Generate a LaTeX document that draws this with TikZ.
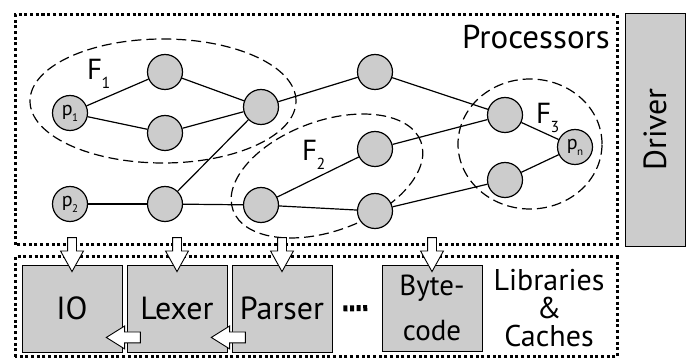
\documentclass[tikz,border=0pt]{standalone}
\usepackage{fontspec}
\setmainfont{PT Sans}
\usetikzlibrary{shapes.arrows}

\newcommand{\sublbl}[2]{#1\kern-0.02em\raisebox{-0.3em}{\scalebox{0.55}{#2}}}

\begin{document}
\begin{tikzpicture}[x=1pt, y=1pt,
    proc/.style={draw, shape=circle, fill=gray!40, inner sep=0, minimum size=35pt,
      line width=1.2pt, font=\fontsize{20}{20}\selectfont},
    link/.style={line width=1.2pt},
    family/.style={dash pattern=on 10pt off 5pt, line width=1.2pt},
    famlbl/.style={anchor=base west, inner sep=0, font=\fontsize{29}{29}\selectfont},
    dotbox/.style={dash pattern=on 3pt off 2.7pt, line width=3pt},
    lib/.style={draw, fill=gray!40, inner sep=0, minimum width=100pt, minimum height=87pt,
      line width=0.9pt, align=center, font=\fontsize{32}{34}\selectfont},
    downarrow/.style={single arrow, draw, fill=white, line width=0.9pt, inner sep=4pt,
      minimum height=34pt, single arrow head extend=7pt, single arrow tip angle=58,
      shape border rotate=270},
    leftarrow/.style={single arrow, draw, fill=white, line width=0.9pt, inner sep=5pt,
      minimum height=34pt, single arrow head extend=6pt, single arrow tip angle=64,
      shape border rotate=180}]

    \useasboundingbox (0,0) rectangle (686,359);

    % Boxes
    \draw[dotbox] (15,114) rectangle (617,344);
    \draw[dotbox] (15,2) rectangle (617,102);
    \node[lib, rotate=90, minimum width=233pt, minimum height=60pt] (driver) at (655,229.5) {Driver};
    \node[anchor=base east, inner sep=0, font=\fontsize{33}{33}\selectfont] (proclbl) at (610,310) {Processors};

    % Families
    \draw[family] (163,258) ellipse [x radius=133, y radius=62];
    \draw[family, rotate around={20:(327,183)}] (327,183) ellipse [x radius=100, y radius=55];
    \draw[family] (530,215) ellipse [x radius=72, y radius=65];
    \node[famlbl] (f1) at (87,279) {\sublbl{F}{1}};
    \node[famlbl] (f2) at (302,198) {\sublbl{F}{2}};
    \node[famlbl] (f3) at (536,235) {\sublbl{F}{3}};

    % Processors
    \node[proc] (p1) at (70,246) {\sublbl{p}{1}};
    \node[proc] (a1) at (165,287) {};
    \node[proc] (a2) at (165,226) {};
    \node[proc] (b) at (261,252) {};
    \node[proc] (p2) at (70,155) {\sublbl{p}{2}};
    \node[proc] (c) at (165,155) {};
    \node[proc] (d) at (261,154) {};
    \node[proc] (e) at (375,287) {};
    \node[proc] (f) at (375,210) {};
    \node[proc] (g) at (375,148) {};
    \node[proc] (h) at (505,244) {};
    \node[proc] (pn) at (575,212) {\sublbl{p}{n}};
    \node[proc] (k) at (505,179) {};

    \draw[link] (p1) -- (a1);
    \draw[link] (p1) -- (a2);
    \draw[link] (a1) -- (b);
    \draw[link] (a2) -- (b);
    \draw[link] (b) -- (e);
    \draw[link] (c) -- (b);
    \draw[link] (p2) -- (c);
    \draw[link] (c) -- (d);
    \draw[link] (d) -- (f);
    \draw[link] (d) -- (g);
    \draw[link] (e) -- (h);
    \draw[link] (f) -- (h);
    \draw[link] (g) -- (k);
    \draw[link] (h) -- (pn);
    \draw[link] (k) -- (pn);

    % Libraries
    \node[lib] (io) at (72,50.5) {IO};
    \node[lib] (lexer) at (177,50.5) {Lexer};
    \node[lib] (parser) at (282,50.5) {Parser};
    \node[lib, minimum height=86pt, font=\fontsize{29}{45}\selectfont] (bytecode) at (432,51) {Byte-\\code};
    \node[align=center, inner sep=0, font=\fontsize{30}{28}\selectfont] (liblbl) at (549,51) {Libraries\\\&\\Caches};
    \draw[dash pattern=on 4pt off 2.6pt, line width=6pt] ([xshift=11pt]parser.east) -- ([xshift=-13pt]bytecode.west);

    % Arrows
    \node[downarrow, anchor=tip] (ioin) at ([yshift=-8pt]io.north) {};
    \node[downarrow, anchor=tip] (lexerin) at ([yshift=-8pt]lexer.north) {};
    \node[downarrow, anchor=tip] (parserin) at ([yshift=-8pt]parser.north) {};
    \node[downarrow, anchor=tip] (bytecodein) at ([yshift=-8pt]bytecode.north) {};
    \node[leftarrow, anchor=tip] (lexerout) at ([xshift=-17pt, yshift=15pt]io.south east) {};
    \node[leftarrow, anchor=tip] (parserout) at ([xshift=-17pt, yshift=15pt]lexer.south east) {};

\end{tikzpicture}
\end{document}
